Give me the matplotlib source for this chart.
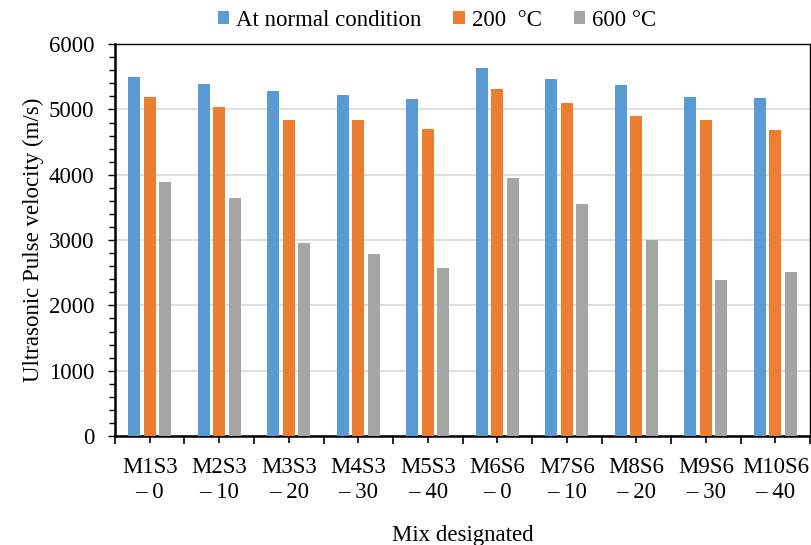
import matplotlib.pyplot as plt
import numpy as np
from matplotlib.ticker import MultipleLocator

plt.rcParams['font.family'] = ['Liberation Serif', 'DejaVu Serif']

# Ultrasonic pulse velocity (m/s) per mix
mezclas = ['M1S3\n– 0', 'M2S3\n– 10', 'M3S3\n– 20', 'M4S3\n– 30', 'M5S3\n– 40',
           'M6S6\n– 0', 'M7S6\n– 10', 'M8S6\n– 20', 'M9S6\n– 30', 'M10S6\n– 40']
normal = [5500, 5390, 5275, 5220, 5165, 5640, 5460, 5380, 5195, 5175]
t200 = [5185, 5045, 4835, 4845, 4695, 5315, 5095, 4900, 4835, 4685]
t600 = [3885, 3650, 2950, 2785, 2565, 3950, 3550, 2995, 2390, 2510]

series = [
    (normal, 'At normal condition', '#5B9BD5'),
    (t200, '200  °C', '#ED7D31'),
    (t600, '600 °C', '#A5A5A5'),
]

fig = plt.figure(figsize=(8.12, 5.45), dpi=100)
ax = fig.add_axes([0.1416, 0.2, 0.856, 0.719])

x = np.arange(len(mezclas))
ancho = 0.172
paso = 0.223
for i, (vals, nombre, color) in enumerate(series):
    ax.bar(x + (i - 1) * paso, vals, ancho, color=color, label=nombre, zorder=3)

ax.set_xlim(-0.5, len(mezclas) - 0.5)
ax.set_ylim(0, 6000)
ax.yaxis.set_major_locator(MultipleLocator(1000))
ax.yaxis.set_minor_locator(MultipleLocator(200))
ax.grid(axis='y', which='major', color='#d9d9d9', linewidth=1.2, zorder=0)

# ticks at group centres plus separators between groups
ax.set_xticks(x)
ax.set_xticklabels(mezclas, fontsize=16.5, linespacing=1.25)
ax.set_xticks(np.arange(-0.5, len(mezclas)), minor=True)
ax.tick_params(axis='x', which='major', length=5, width=1.2, pad=10)
ax.tick_params(axis='x', which='minor', length=6, width=1.2)
ax.tick_params(axis='y', which='major', length=5, width=1, labelsize=16.5, pad=10)
ax.tick_params(axis='y', which='minor', length=4, width=1)

for lado in ['left', 'bottom']:
    ax.spines[lado].set_linewidth(1.8)
for lado in ['top', 'right']:
    ax.spines[lado].set_linewidth(1.0)

ax.set_ylabel('Ultrasonic Pulse velocity (m/s)', fontsize=16.5, labelpad=3)
ax.set_xlabel('Mix designated', fontsize=16.5, labelpad=16)

fig.legend(loc='upper center', bbox_to_anchor=(0.538, 1.02), ncol=3, frameon=False,
           fontsize=16.5, handlelength=0.5, handleheight=0.5, handletextpad=0.3,
           columnspacing=1.4)

plt.savefig('out.png', dpi=100)
